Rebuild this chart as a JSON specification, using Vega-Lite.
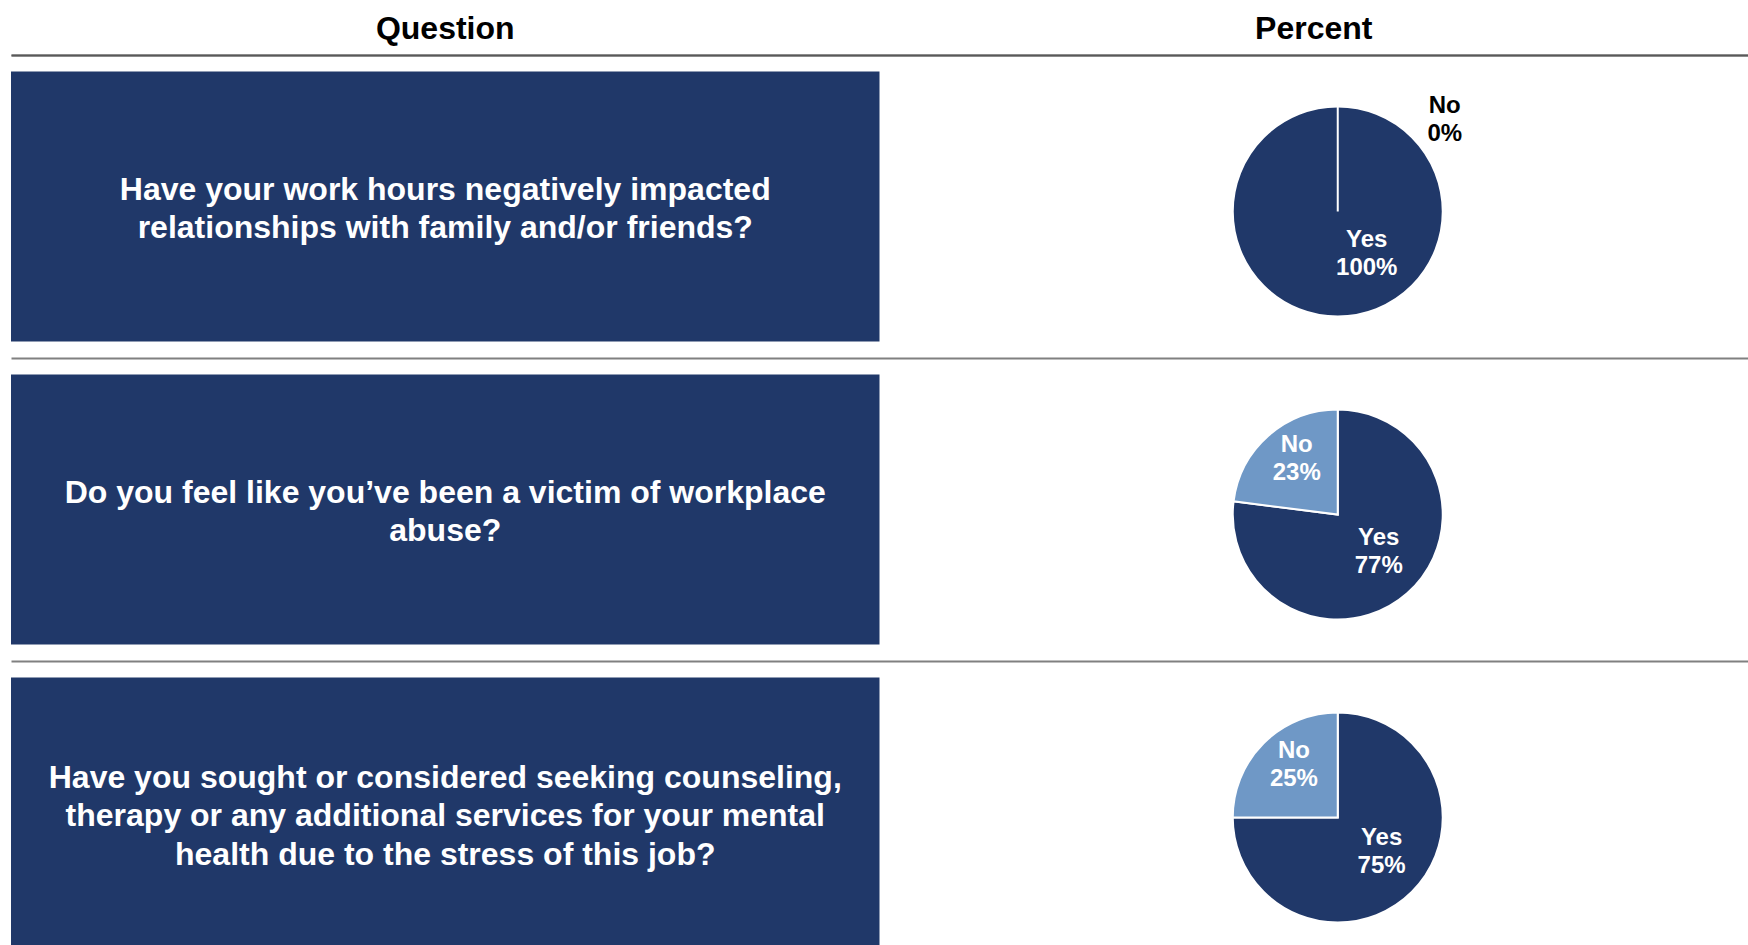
{
  "$schema": "https://vega.github.io/schema/vega-lite/v6.json",
  "autosize": {"type": "none"},
  "width": 1737,
  "height": 890,
  "padding": {"left": 11, "top": 55, "right": 0, "bottom": 0},
  "background": "#ffffff",
  "config": {"font": "Liberation Sans", "view": {"stroke": null}},
  "datasets": {
    "questions": [
      {"row": 1, "question": "Have your work hours negatively impacted|relationships with family and/or friends?"},
      {"row": 2, "question": "Do you feel like you’ve been a victim of workplace|abuse?"},
      {"row": 3, "question": "Have you sought or considered seeking counseling,|therapy or any additional services for your mental|health due to the stress of this job?"}
    ],
    "answers": [
      {"row": 1, "answer": "Yes", "pct": 1.0},
      {"row": 1, "answer": "No", "pct": 0.0},
      {"row": 2, "answer": "Yes", "pct": 0.77},
      {"row": 2, "answer": "No", "pct": 0.23},
      {"row": 3, "answer": "Yes", "pct": 0.75},
      {"row": 3, "answer": "No", "pct": 0.25}
    ]
  },
  "encoding": {
    "y": {
      "field": "row",
      "type": "nominal",
      "scale": {"domain": [1, 2, 3], "range": [0, 909], "paddingInner": 0, "paddingOuter": 0},
      "axis": {
        "title": null,
        "labels": false,
        "ticks": false,
        "domain": false,
        "grid": true,
        "gridColor": "#808080",
        "gridWidth": 2,
        "bandPosition": 0
      }
    }
  },
  "layer": [
    {
      "data": {"name": "questions"},
      "mark": {"type": "rect", "color": "#203869", "height": {"band": 0.891}},
      "encoding": {
        "x": {
          "datum": "Question",
          "type": "nominal",
          "scale": {"domain": ["Question", "Percent"], "paddingInner": 0, "paddingOuter": 0},
          "axis": {
            "orient": "top",
            "title": null,
            "ticks": false,
            "tickSize": 0,
            "labelPadding": 17,
            "labelBaseline": "alphabetic",
            "labelAngle": 0,
            "labelFontSize": 32,
            "labelFontWeight": "bold",
            "labelColor": "#000000",
            "domainColor": "#595959",
            "domainWidth": 2,
            "grid": false
          }
        }
      }
    },
    {
      "data": {"name": "questions"},
      "transform": [{"filter": "length(split(datum.question, '|')) == 2"}],
      "mark": {"type": "text", "color": "#ffffff", "fontSize": 32, "fontWeight": "bold", "lineBreak": "|", "lineHeight": 38.5, "align": "center", "baseline": "middle", "dy": -17},
      "encoding": {
        "x": {"datum": "Question", "type": "nominal"},
        "text": {"field": "question", "type": "nominal"}
      }
    },
    {
      "data": {"name": "questions"},
      "transform": [{"filter": "length(split(datum.question, '|')) == 3"}],
      "mark": {"type": "text", "color": "#ffffff", "fontSize": 32, "fontWeight": "bold", "lineBreak": "|", "lineHeight": 38.5, "align": "center", "baseline": "middle", "dy": -35},
      "encoding": {
        "x": {"datum": "Question", "type": "nominal"},
        "text": {"field": "question", "type": "nominal"}
      }
    },
    {
      "data": {"name": "answers"},
      "transform": [
        {"stack": "pct", "groupby": ["row"], "sort": [{"field": "answer", "order": "descending"}], "as": ["t0", "t1"]}
      ],
      "mark": {"type": "arc", "radius": 105, "stroke": "#ffffff", "strokeWidth": 2, "xOffset": 24, "yOffset": 5},
      "encoding": {
        "x": {"datum": "Percent", "type": "nominal"},
        "theta": {"field": "t0", "type": "quantitative", "scale": {"domain": [0, 1]}},
        "theta2": {"field": "t1"},
        "color": {"field": "answer", "type": "nominal", "scale": {"domain": ["Yes", "No"], "range": ["#203869", "#6F98C6"]}, "legend": null}
      }
    },
    {
      "data": {"name": "answers"},
      "transform": [
        {"stack": "pct", "groupby": ["row"], "sort": [{"field": "answer", "order": "descending"}], "as": ["t0", "t1"]},
        {"calculate": "(datum.t0 + datum.t1) / 2", "as": "mid"},
        {"filter": "datum.pct > 0 && datum.pct < 1"},
        {"calculate": "datum.answer + '|' + format(datum.pct, '.0%')", "as": "label"}
      ],
      "mark": {"type": "text", "radius": 62, "color": "#ffffff", "fontSize": 24, "fontWeight": "bold", "lineBreak": "|", "lineHeight": 28, "align": "center", "baseline": "middle", "xOffset": 24, "yOffset": -18},
      "encoding": {
        "x": {"datum": "Percent", "type": "nominal"},
        "theta": {"field": "mid", "type": "quantitative", "stack": null},
        "text": {"field": "label", "type": "nominal"}
      }
    },
    {
      "data": {"name": "answers"},
      "transform": [
        {"filter": "datum.pct >= 1"},
        {"calculate": "datum.answer + '|' + format(datum.pct, '.0%')", "as": "label"}
      ],
      "mark": {"type": "text", "color": "#ffffff", "fontSize": 24, "fontWeight": "bold", "lineBreak": "|", "lineHeight": 28, "align": "center", "baseline": "middle", "xOffset": 53, "yOffset": 33.5},
      "encoding": {
        "x": {"datum": "Percent", "type": "nominal"},
        "text": {"field": "label", "type": "nominal"}
      }
    },
    {
      "data": {"name": "answers"},
      "transform": [
        {"filter": "datum.pct <= 0"},
        {"calculate": "datum.answer + '|' + format(datum.pct, '.0%')", "as": "label"}
      ],
      "mark": {"type": "text", "color": "#000000", "fontSize": 24, "fontWeight": "bold", "lineBreak": "|", "lineHeight": 28, "align": "center", "baseline": "middle", "xOffset": 131, "yOffset": -101},
      "encoding": {
        "x": {"datum": "Percent", "type": "nominal"},
        "text": {"field": "label", "type": "nominal"}
      }
    }
  ]
}
